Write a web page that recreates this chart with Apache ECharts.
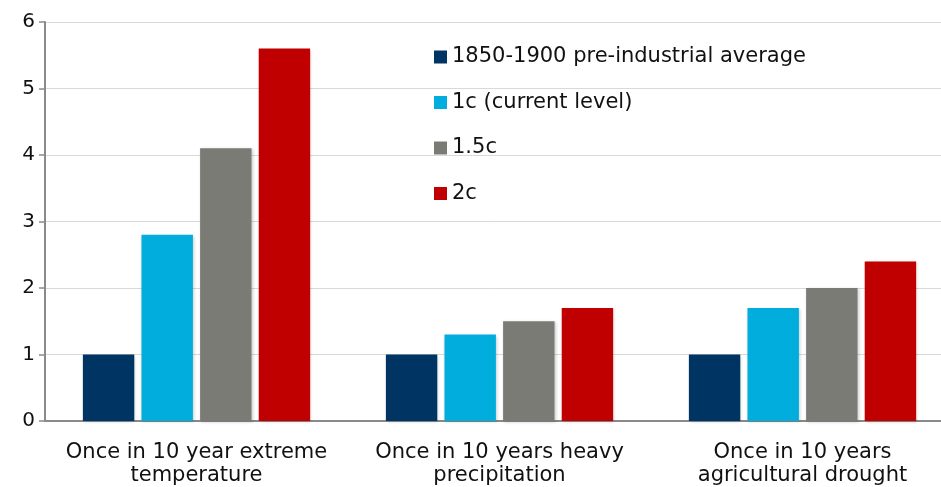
<!DOCTYPE html>
<html>
<head>
<meta charset="utf-8">
<script src="https://cdn.jsdelivr.net/npm/echarts@6/dist/echarts.min.js"></script>
<style>
    html, body {margin: 0; padding: 0; background: #fff;}
    #chart {width: 941px; height: 487px;}
</style>
</head>
<body>
<div id="chart"></div>
<script>
var categories = ['Once in 10 year extreme\ntemperature', 'Once in 10 years heavy\nprecipitation', 'Once in 10 years\nagricultural drought'];
var seriesNames = ['1850-1900 pre-industrial average', '1c (current level)', '1.5c', '2c'];
var preIndustrial = [1, 1, 1];
var current1c = [2.8, 1.3, 1.7];
var warming15 = [4.1, 1.5, 2.0];
var warming2 = [5.6, 1.7, 2.4];
var colors = ['#003463', '#00ADDC', '#7B7B76', '#C00000'];

var chart = echarts.init(document.getElementById('chart'));

var allData = [preIndustrial, current1c, warming15, warming2];
var series = [];
for (var i = 0; i < allData.length; i++) {
    series.push({
        name: seriesNames[i],
        type: 'bar',
        barGap: '14%',
        barCategoryGap: '25%',
        itemStyle: {
            color: colors[i],
            shadowColor: 'rgba(0,0,0,0.2)',
            shadowBlur: 3,
            shadowOffsetX: 1,
            shadowOffsetY: 1
        },
        data: allData[i]
    });
}

var font = 'DejaVu Sans, Liberation Sans, sans-serif';

var option = {
    animation: false,
    color: colors,
    textStyle: {fontFamily: font},
    grid: {left: 45, width: 909, top: 22, bottom: 66, outerBoundsMode: 'none'},
    legend: {
        orient: 'vertical',
        left: 434,
        top: 46.5,
        padding: 0,
        itemWidth: 13,
        itemHeight: 13,
        itemGap: 24.5,
        icon: 'rect',
        textStyle: {fontSize: 21, fontFamily: font, color: '#111', lineHeight: 20},
        data: seriesNames
    },
    xAxis: {
        type: 'category',
        data: categories,
        axisTick: {show: false},
        axisLine: {lineStyle: {color: '#8A8A8A', width: 2}},
        axisLabel: {fontSize: 21, fontFamily: font, color: '#111', lineHeight: 23, margin: 20, interval: 0}
    },
    yAxis: {
        type: 'value',
        min: 0,
        max: 6,
        interval: 1,
        axisLine: {show: true, lineStyle: {color: '#8A8A8A', width: 2}},
        axisTick: {show: true, length: 6, lineStyle: {color: '#8A8A8A', width: 1.5}},
        axisLabel: {fontSize: 20, fontFamily: font, color: '#111', margin: 10},
        splitLine: {lineStyle: {color: '#D9D9D9', width: 1}}
    },
    series: series
};

chart.setOption(option);
</script>
</body>
</html>
